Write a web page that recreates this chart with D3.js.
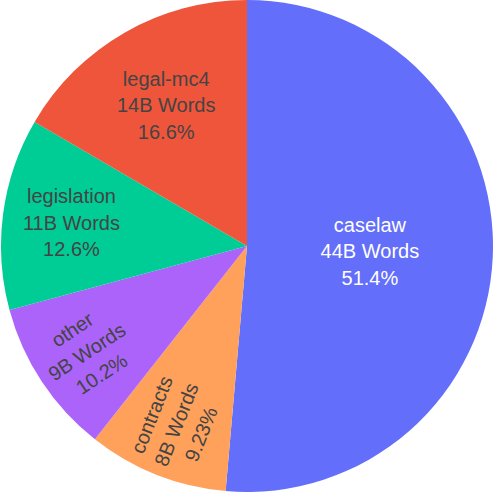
<!DOCTYPE html>
<html>
<head>
<meta charset="utf-8">
<script src="https://cdn.jsdelivr.net/npm/d3@7"></script>
<style>
  html, body { margin: 0; padding: 0; background: #fff; }
  svg { display: block; }
  text { font-family: "Liberation Sans", Arial, sans-serif; }
</style>
</head>
<body>
<svg id="chart" width="494" height="492"></svg>
<script>
// ==========================================
// DATA
// ==========================================
const categories = ['caselaw', 'contracts', 'other', 'legislation', 'legal-mc4'];
const wordCounts = [44.0, 7.9, 8.73, 10.8, 14.2];   // billions of words
const wordLabels = ['44B Words', '8B Words', '9B Words', '11B Words', '14B Words'];
const colors = ['#636efa', '#FFA15A', '#ab63fa', '#00cc96', '#EF553B'];

// label placement (fraction of radius) and orientation per slice
const labelRadius = [0.5, 0.78, 0.78, 0.72, 0.66];
const labelRadial = [false, true, true, false, false];

// ==========================================
// LAYOUT
// ==========================================
const cx = 247, cy = 246, radius = 246;
const fontSize = 20, lineHeight = 26.5;

const svg = d3.select('#chart');
const g = svg.append('g').attr('transform', `translate(${cx},${cy})`);

const total = d3.sum(wordCounts);
const pct = d3.format('.3r');

const rows = categories.map((c, i) => ({ name: c, value: wordCounts[i], i }));
const pie = d3.pie().sort(null).value(d => d.value);
const arcs = pie(rows);

const arc = d3.arc().innerRadius(0).outerRadius(radius);

g.selectAll('path')
  .data(arcs)
  .enter().append('path')
  .attr('d', arc)
  .attr('fill', d => colors[d.data.i]);

// pick a readable text colour like plotly does
function textColor(c) {
  const rgb = d3.rgb(c);
  const brightness = (rgb.r * 299 + rgb.g * 587 + rgb.b * 114) / 1000;
  return brightness > 128 ? '#444' : '#fff';
}

const labels = g.selectAll('g.label')
  .data(arcs)
  .enter().append('g')
  .attr('class', 'label')
  .attr('transform', d => {
    const mid = (d.startAngle + d.endAngle) / 2;
    const r = radius * labelRadius[d.data.i];
    const x = Math.sin(mid) * r;
    const y = -Math.cos(mid) * r;
    let rot = 0;
    if (labelRadial[d.data.i]) {
      // run the text along the radius, keep it readable
      rot = mid * 180 / Math.PI - 90;
      if (rot > 90) rot -= 180;
    }
    return `translate(${x},${y}) rotate(${rot})`;
  });

labels.each(function(d) {
  const lines = [d.data.name, wordLabels[d.data.i], pct(d.data.value / total * 100) + '%'];
  const t = d3.select(this).append('text')
    .attr('text-anchor', 'middle')
    .attr('font-size', fontSize)
    .attr('fill', textColor(colors[d.data.i]));
  lines.forEach((s, k) => {
    t.append('tspan')
      .attr('x', 0)
      .attr('y', (k - 1) * lineHeight)
      .attr('dy', '0.35em')
      .text(s);
  });
});
</script>
</body>
</html>
